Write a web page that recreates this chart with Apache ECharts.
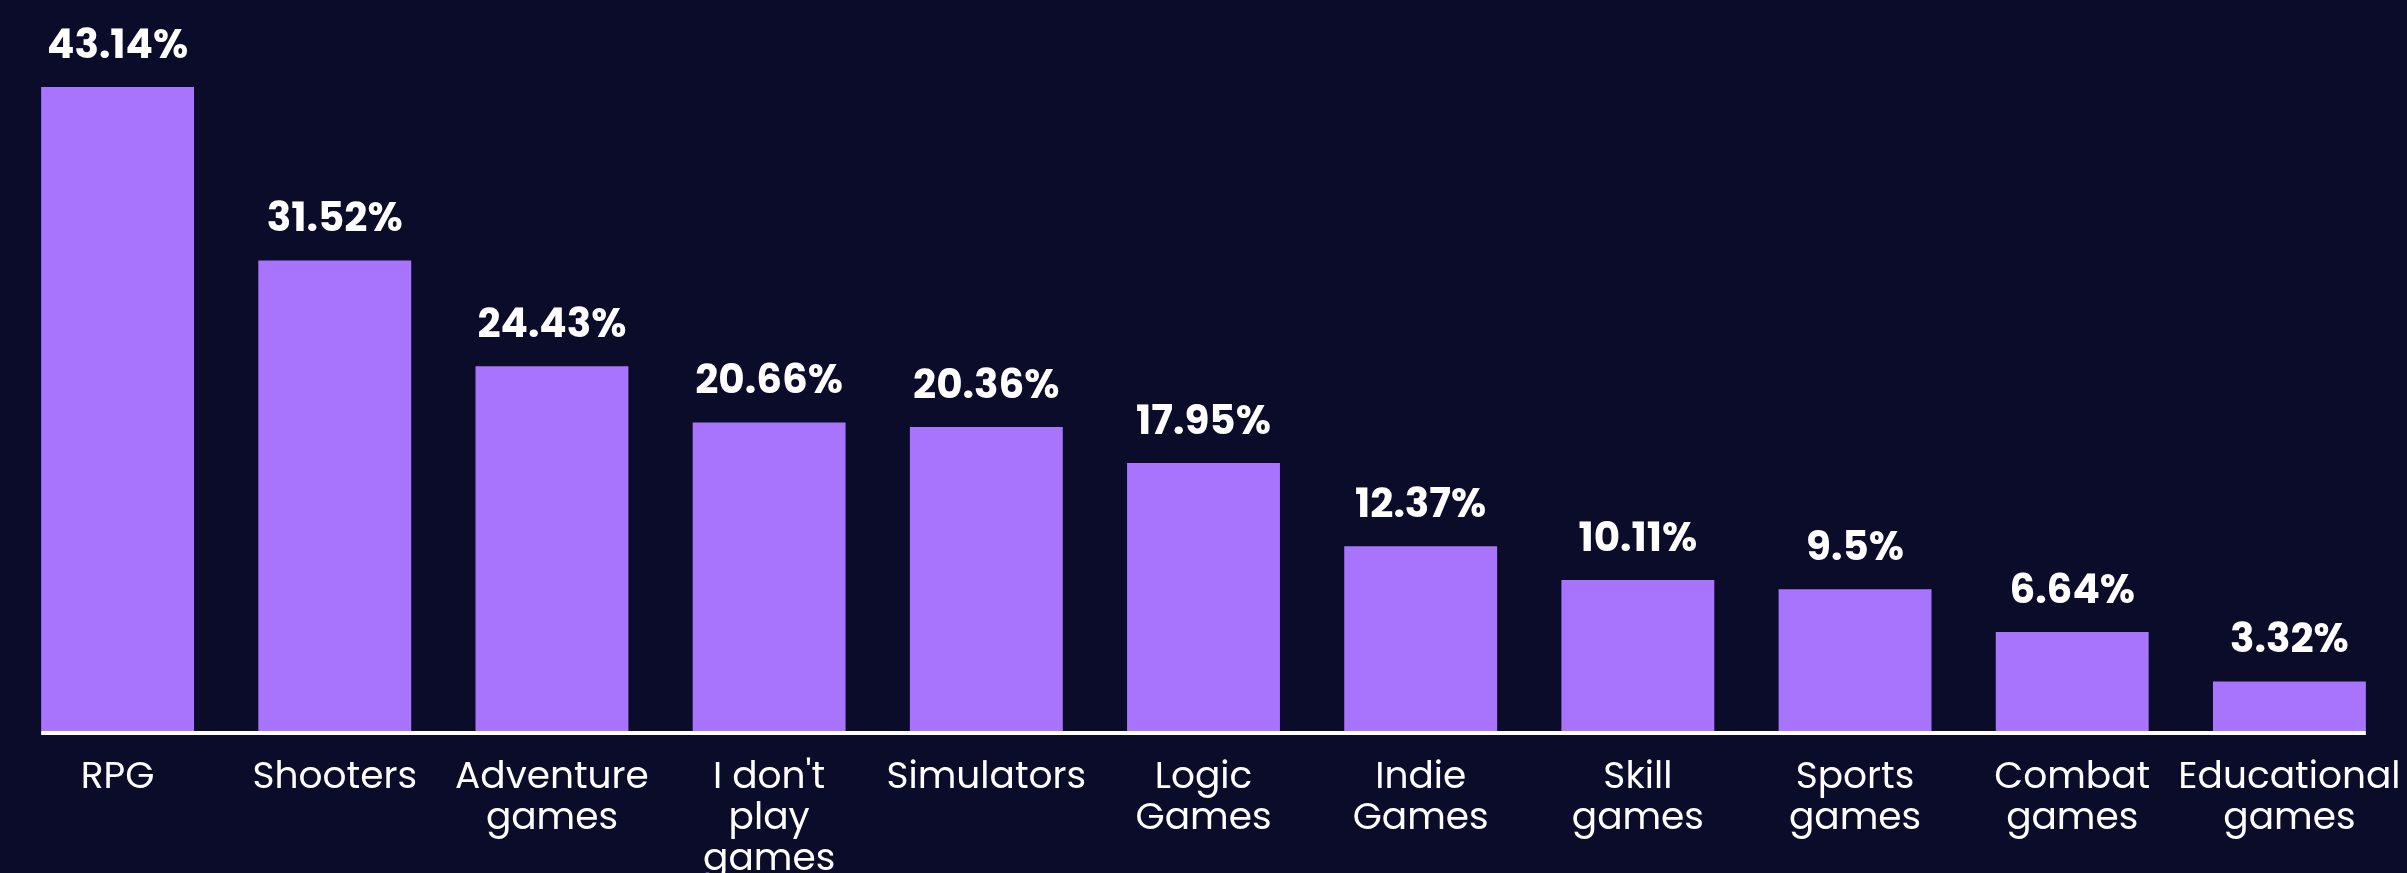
<!DOCTYPE html>
<html>
<head>
<meta charset="utf-8">
<script src="https://cdn.jsdelivr.net/npm/echarts@6/dist/echarts.min.js"></script>
<style>
  html, body { margin: 0; padding: 0; background: #0b0c29; }
  #chart { width: 2407px; height: 873px; }
</style>
</head>
<body>
<div id="chart"></div>
<script>
// 数据
const categories = ['RPG', 'Shooters', 'Adventure\ngames', 'I don\'t\nplay\ngames', 'Simulators',
  'Logic\nGames', 'Indie\nGames', 'Skill\ngames', 'Sports\ngames', 'Combat\ngames', 'Educational\ngames']
const values = [43.14, 31.52, 24.43, 20.66, 20.36, 17.95, 12.37, 10.11, 9.5, 6.64, 3.32]

const fontFamily = 'Poppins, Inter, sans-serif'
const barColor = '#a874fd'

const myChart = echarts.init(document.getElementById('chart'))
myChart.setOption({
  backgroundColor: '#0b0c29',
  animation: false,
  grid: {
    top: 87,
    left: 9,
    right: 9,
    bottom: 142,
    containLabel: false,
    outerBoundsMode: 'none'
  },
  xAxis: {
    type: 'category',
    data: categories,
    axisLine: { show: false },
    axisTick: { show: false },
    axisLabel: {
      color: '#ffffff',
      fontFamily: fontFamily,
      fontSize: 37.5,
      lineHeight: 41,
      margin: 27,
      interval: 0
    }
  },
  yAxis: {
    type: 'value',
    min: 0,
    max: 'dataMax',
    show: false,
    splitLine: { show: false }
  },
  series: [
    {
      type: 'bar',
      data: values,
      barWidth: '70.4%',
      itemStyle: { color: barColor },
      label: {
        show: true,
        position: 'top',
        distance: 19,
        color: '#ffffff',
        fontFamily: fontFamily,
        fontWeight: 'bold',
        fontSize: 40.5,
        formatter: p => p.value + '%'
      }
    }
  ]
})

// 底部白线：从第一根柱子左边到最后一根柱子右边
const first = myChart.convertToPixel({ xAxisIndex: 0 }, 0)
const last = myChart.convertToPixel({ xAxisIndex: 0 }, categories.length - 1)
const step = categories.length > 1 ? (last - first) / (categories.length - 1) : 0
const half = step * 0.704 / 2
const baseY = myChart.convertToPixel({ yAxisIndex: 0 }, 0)
myChart.setOption({
  graphic: [
    {
      type: 'rect',
      shape: { x: first - half, y: baseY, width: last - first + 2 * half, height: 4 },
      style: { fill: '#ffffff' }
    }
  ]
})
</script>
</body>
</html>
